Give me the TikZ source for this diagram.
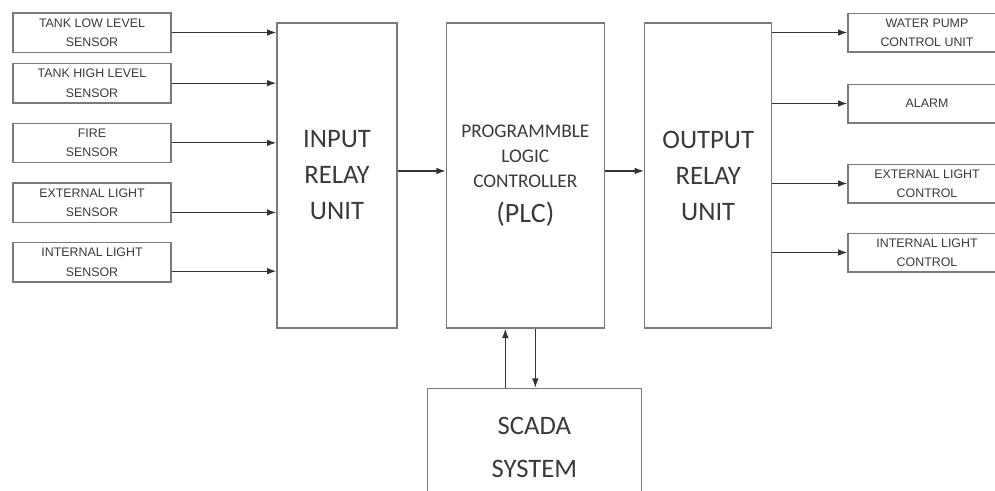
\documentclass[tikz,border=0pt]{standalone}
\usepackage{fontspec}
\setmainfont{Carlito}
\newfontfamily\labelfont{Liberation Sans}
\usepackage{tikz}
\usetikzlibrary{arrows.meta, positioning}
\definecolor{boxgray}{HTML}{7A7A7A}
\definecolor{textgray}{HTML}{3A3A3A}
\tikzstyle{sensor} = [rectangle, draw=boxgray, line width=1pt, text=textgray, align=center,
    minimum width=118.5pt, minimum height=29.5pt, inner sep=0pt, font=\labelfont\fontsize{9.3}{14.5}\selectfont]
\tikzstyle{unit} = [rectangle, draw=boxgray, line width=1pt, text=textgray, align=center,
    minimum height=228.75pt, inner sep=0pt, font=\fontsize{20}{27}\selectfont]
\tikzstyle{line} = [draw, -{Latex[length=7pt, width=5pt]}, line width=0.9pt, black!80]

\begin{document}
\begin{tikzpicture}[x=0.75pt, y=-0.75pt, node distance = 14.25pt]
      \useasboundingbox (0,0) rectangle (995,490);
      % Sensors
      \node [sensor] (tanklow) at (92,32.5) {TANK LOW LEVEL\\SENSOR};
      \node [sensor, below=7.5pt of tanklow] (tankhigh) {TANK HIGH LEVEL\\SENSOR};
      \node [sensor, below=of tankhigh] (fire) {FIRE\\SENSOR};
      \node [sensor, below=of fire] (extsensor) {EXTERNAL LIGHT\\SENSOR};
      \node [sensor, below=of extsensor] (intsensor) {INTERNAL LIGHT\\SENSOR};
      % Units
      \node [unit, minimum width=90pt] (input) at (337,175.5) {INPUT\\RELAY\\UNIT};
      \node [unit, minimum width=118.5pt, right=36pt of input, font=\fontsize{14.5}{18.75}\selectfont] (plc)
          {PROGRAMMBLE\\LOGIC\\CONTROLLER\\[8pt]{\fontsize{21}{26}\selectfont (PLC)}};
      \node [unit, minimum width=95.25pt, right=29.25pt of plc] (output) {OUTPUT\\RELAY\\UNIT};
      \node [unit, minimum width=160.5pt, minimum height=88.5pt, font=\fontsize{20}{32}\selectfont,
          below=44.25pt of plc, xshift=6.75pt] (scada) {SCADA\\SYSTEM};
      % Outputs
      \node [sensor, minimum height=29pt] (pump) at (927,32.5) {WATER PUMP\\CONTROL UNIT};
      \node [sensor, minimum height=29pt, below=23.25pt of pump] (alarm) {ALARM};
      \node [sensor, minimum height=29pt, below=30pt of alarm] (extlight) {EXTERNAL LIGHT\\CONTROL};
      \node [sensor, minimum height=29pt, below=21.75pt of extlight] (intlight) {INTERNAL LIGHT\\CONTROL};
      % Draw edges
      \path [line] (tanklow) -- (tanklow -| input.west);
      \path [line] (tankhigh) -- (tankhigh -| input.west);
      \path [line] (fire) -- (fire -| input.west);
      \path [line] ([yshift=-7.5pt]extsensor.east) -- ([yshift=-7.5pt]extsensor.east -| input.west);
      \path [line] ([yshift=-6.75pt]intsensor.east) -- ([yshift=-6.75pt]intsensor.east -| input.west);
      \path [line] ([yshift=3.4pt]input.east) -- ([yshift=3.4pt]input.east -| plc.west);
      \path [line] ([yshift=3.4pt]plc.east) -- ([yshift=3.4pt]plc.east -| output.west);
      \path [line] (output.east |- pump) -- (pump);
      \path [line] (output.east |- alarm) -- (alarm);
      \path [line] (output.east |- extlight) -- (extlight);
      \path [line] (output.east |- intlight) -- (intlight);
      \path [line] ([xshift=-21.75pt]scada.north) -- ([xshift=-21.75pt]scada.north |- plc.south);
      \path [line] ([xshift=7.5pt]plc.south) -- ([xshift=7.5pt]plc.south |- scada.north);
    \end{tikzpicture}
\end{document}
